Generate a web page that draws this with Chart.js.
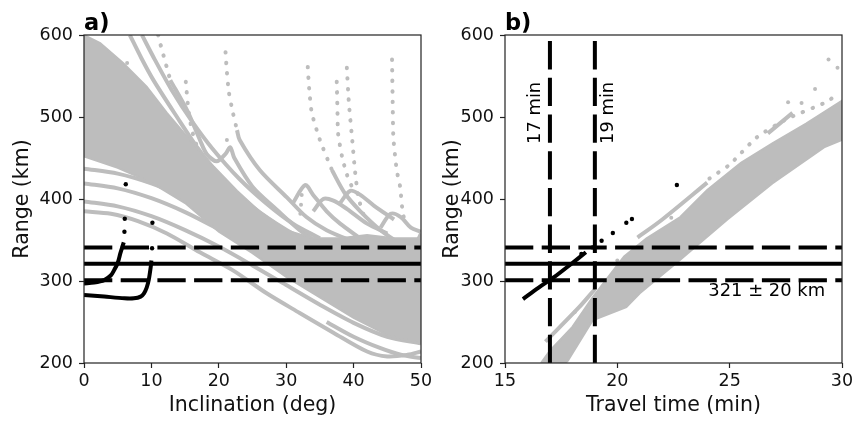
<!DOCTYPE html>
<html>
<head>
<meta charset="utf-8">
<script src="https://cdn.jsdelivr.net/npm/chart.js@4.4.1/dist/chart.umd.min.js"></script>
<style>
  body { margin: 0; background: #fff; }
  #wrap { position: relative; width: 858px; height: 421px; }
  canvas { position: absolute; top: 0; }
  #left { left: 0; }
  #right { left: 430px; }
</style>
</head>
<body>
<div id="wrap">
  <canvas id="left" width="440" height="421"></canvas>
  <canvas id="right" width="428" height="421"></canvas>
</div>
<script>
// axis limits / ticks
const rangeTicks = [200, 300, 400, 500, 600];
const incTicks = [0, 10, 20, 30, 40, 50];
const timeTicks = [15, 20, 25, 30];
const rangeMid = 321;
const rangeTol = 20;
const timeMarks = [17, 19];

// panel a) gray runs, range vs inclination
const massA = [[0,600],[2.4,590],[5.8,566],[9.3,537],[12.3,505],[15.7,472],[19.2,440],[22.7,410],[26,385],[30,362],[34,352],[38,352],[42,356],[46,352],[50,352],
  [50,224],[45,234],[40,255],[35,280],[30,305],[25,334],[20,360],[15,395],[10,420],[5,438],[0,452]];
const lowA1 = [[0,385],[4,382],[8,373],[12.3,358],[17.2,335],[22.1,313],[27.1,285],[32,261],[37,237],[42,214],[45,208],[48,210],[50,214]];
const lowA0 = [[36,250],[40,232],[44,218],[47,210],[50,206]];
const lowA2 = [[0,397],[5,391],[10,379],[15,362],[20,342],[25,319],[30,295],[35,271],[40,249],[45,232],[50,224]];
const lowA3 = [[0,419],[5,413],[10,401],[15,384],[20,363],[25,340],[30,316],[35,292],[40,269],[45,250],[50,236]];
const lowA4 = [[0,437],[5,431],[10,419],[15,402],[20,382],[25,359],[30,335],[35,311],[40,289],[45,268],[50,254]];
const riseA = [[46,300],[48,320],[49.3,345],[50,358]];
const arcA1 = [[6.8,600],[8.5,572],[10.3,545],[13.8,500],[16.8,463],[20.2,427],[25.1,390],[30.1,362],[34,345]];
const arcA2 = [[8.6,600],[10.5,570],[13,533],[16,495],[19,462],[23,425],[27,395],[31,370],[35,352]];
const arcA3dots = [[11,600],[11.3,590],[11.8,575],[12.3,560],[12.8,545]];
const arcA3 = [[12.8,545],[15.3,508],[17.2,472],[18.2,455],[19.7,446],[21,455],[21.7,463],[22.3,450],[25,415],[28.6,387],[32,362],[36,340]];
const dots15 = [[15.1,543],[15.5,508],[16,484],[16.8,463]];
const arcA4dots = [[21,579],[21.2,555],[21.5,530],[22.1,505],[22.7,484]];
const arcA4 = [[22.7,484],[23.1,472],[26.1,435],[30.1,402],[33,378],[36,362],[40,348],[45,332],[50,320]];
const arcA5dots = [[33.2,561],[33.4,535],[33.8,505],[35,472],[36.8,435]];
const arcA5 = [[36.8,435],[38.7,407],[41,385],[44,362],[47,345],[50,332]];
const dots37 = [[37.5,543],[37.6,510],[37.7,480],[38.3,451],[39,430],[40,410]];
const dots39 = [[39,560],[39.3,517],[39.8,472],[40.2,435],[40.7,402],[41.5,380]];
const dots46 = [[45.7,570],[45.8,518],[45.9,475],[46.4,435],[46.9,415],[47.2,390],[47.6,370]];
const loopA1 = [[31,395],[32.8,417],[34,405],[36,385],[38,370],[41,352]];
const loopA2 = [[34,385],[35.5,400],[37,398],[39,388],[42,370],[45,358]];
const loopA3 = [[38,395],[39.5,410],[41,405],[43,392],[46,375]];
const loopA4 = [[44,365],[45.5,382],[47,378],[48.5,365],[50,360]];
const strayA = [[6.4,566],[3.9,535],[32.3,405],[32.2,393],[32.1,382],[21.2,472]];

// panel a) black runs
const blackA1 = [[0,297],[1.5,298],[3,301],[4,307],[4.45,313],[5,322],[5.4,334],[5.9,347]];
const blackA1dots = [[6,360],[6.05,376],[6.2,418]];
const blackA2 = [[0,283],[3,281],[6,279],[7.4,279],[8.4,281],[8.9,285],[9.3,292],[9.6,301],[9.9,317],[10,325]];
const blackA2dots = [[10.1,340],[10.15,371]];

// panel b) gray runs, range vs travel time
const bandB = [[16.6,200],[17,215],[18,244],[18.9,280],[20.3,330],[21.3,352],[22.8,378],[24,411],[25.5,444],[26.9,468],[28.4,492],[30,520],
  [30,472],[29.2,463],[26.9,419],[24.9,375],[22.8,326],[21,285],[20.4,268],[18.9,252],[17.8,203],[17.7,200]];
const segB1 = [[16.8,226],[18.3,268],[19,290]];
const segB2 = [[20.9,353],[22,375],[24,420]];
const segB3dots = [[24.1,425],[25,442],[26.2,475],[27.5,497],[29.2,517],[29.9,529]];
const segB4 = [[26.7,480],[27.8,505]];
const strayB = [[29.4,570],[29.8,560],[28.8,534],[27.6,518],[28.2,517],[20,325],[22.4,377],[18.1,262]];

// panel b) black runs
const blackB = [[15.8,278],[16.5,292],[17.2,305],[18,322],[18.6,335]];
const blackBdots = [[18.4,333],[18.9,341],[19.3,349],[19.8,358.5],[20.4,371],[20.65,375.6],[22.65,417]];

const gray = '#bdbdbd';
const font = '"DejaVu Sans", sans-serif';
const pts = arr => arr.map(([x, y]) => ({x, y}));

const curve = arr => ({data: pts(arr), showLine: true, borderColor: gray, borderWidth: 4, pointRadius: 0, tension: 0.3, clip: 0, order: 3});
const dotted = arr => ({...curve(arr), borderDash: [0.5, 10], borderCapStyle: 'round', tension: 0.2});
const dots = (arr, color, r) => ({data: pts(arr), pointRadius: r, backgroundColor: color, borderWidth: 0, clip: 0, order: color === gray ? 3 : 1});
const shape = arr => ({data: pts(arr), showLine: true, fill: 'shape', backgroundColor: gray, borderColor: gray, borderWidth: 2, pointRadius: 0, tension: 0, clip: 0, order: 3});
const blackLine = arr => ({data: pts(arr), showLine: true, borderColor: '#000', borderWidth: 4, pointRadius: 0, tension: 0.3, clip: 0, order: 1});
const refLine = (arr, dashed) => ({data: pts(arr), showLine: true, borderColor: '#000', borderWidth: 4, pointRadius: 0, borderDash: dashed ? [28.3, 8.4] : [], clip: 0, order: 2});

const hLines = (x0, x1) => [
  refLine([[x0, rangeMid + rangeTol], [x1, rangeMid + rangeTol]], true),
  refLine([[x0, rangeMid], [x1, rangeMid]], false),
  refLine([[x0, rangeMid - rangeTol], [x1, rangeMid - rangeTol]], true)
];

const axesBox = {
  id: 'axesBox',
  afterDraw(chart, args, opts) {
    const {ctx, chartArea: a} = chart;
    ctx.save();
    ctx.strokeStyle = '#222';
    ctx.lineWidth = 1.2;
    ctx.strokeRect(a.left, a.top, a.right - a.left, a.bottom - a.top);
    ctx.fillStyle = '#000';
    ctx.font = 'bold 22.5px ' + font;
    ctx.textAlign = 'left';
    ctx.textBaseline = 'alphabetic';
    ctx.fillText(opts.label, a.left, a.top - 5);
    (opts.notes || []).forEach(n => {
      const x = chart.scales.x.getPixelForValue(n.x);
      const y = chart.scales.y.getPixelForValue(n.y);
      ctx.save();
      ctx.translate(x, y);
      ctx.rotate(n.rot || 0);
      ctx.font = '17.9px ' + font;
      ctx.textAlign = n.align;
      ctx.textBaseline = 'middle';
      ctx.fillText(n.text, 0, 0);
      ctx.restore();
    });
    ctx.restore();
  }
};

function scales(ticksX, title, yWidth) {
  const tickFont = {family: font, size: 17.5};
  return {
    x: {
      type: 'linear', min: ticksX[0], max: ticksX[ticksX.length - 1],
      afterBuildTicks: s => { s.ticks = ticksX.map(v => ({value: v})); },
      ticks: {font: tickFont, color: '#111', padding: 3, maxRotation: 0},
      grid: {drawOnChartArea: false, drawTicks: true, tickLength: 5, color: '#222', tickWidth: 1.2},
      border: {display: false},
      title: {display: true, text: title, font: {family: font, size: 20.5}, color: '#111', padding: {top: 4, bottom: 3}},
      afterFit: s => { s.height = 58; }
    },
    y: {
      type: 'linear', min: 200, max: 600,
      afterBuildTicks: s => { s.ticks = rangeTicks.map(v => ({value: v})); },
      ticks: {font: tickFont, color: '#111', padding: 6},
      grid: {drawOnChartArea: false, drawTicks: true, tickLength: 5, color: '#222', tickWidth: 1.2},
      border: {display: false},
      title: {display: true, text: 'Range (km)', font: {family: font, size: 20.5}, color: '#111', padding: {top: 10, bottom: 0}},
      afterFit: s => { s.width = yWidth; }
    }
  };
}

new Chart(document.getElementById('left'), {
  type: 'scatter',
  data: {
    datasets: [
      shape(massA),
      curve(lowA0), curve(lowA1), curve(lowA2), curve(lowA3), curve(lowA4), curve(riseA),
      curve(arcA1), curve(arcA2), dotted(arcA3dots), curve(arcA3), dotted(dots15),
      dotted(arcA4dots), curve(arcA4), dotted(arcA5dots), curve(arcA5),
      dotted(dots37), dotted(dots39), dotted(dots46),
      curve(loopA1), curve(loopA2), curve(loopA3), curve(loopA4),
      dots(strayA, gray, 2),
      ...hLines(incTicks[0], incTicks[incTicks.length - 1]),
      blackLine(blackA1), blackLine(blackA2),
      dots(blackA1dots, '#000', 2.2), dots(blackA2dots, '#000', 2.2)
    ]
  },
  options: {
    responsive: false, animation: false, devicePixelRatio: 1,
    layout: {padding: {top: 35, right: 19, left: 0, bottom: 0}},
    scales: scales(incTicks, 'Inclination (deg)', 84),
    plugins: {legend: {display: false}, tooltip: {enabled: false}, axesBox: {label: 'a)'}}
  },
  plugins: [axesBox]
});

new Chart(document.getElementById('right'), {
  type: 'scatter',
  data: {
    datasets: [
      shape(bandB),
      curve(segB1), curve(segB2), dotted(segB3dots), curve(segB4),
      dots(strayB, gray, 2),
      ...hLines(timeTicks[0], timeTicks[timeTicks.length - 1]),
      ...timeMarks.map(t => refLine([[t, 200], [t, 600]], true)),
      blackLine(blackB),
      dots(blackBdots, '#000', 2.2)
    ]
  },
  options: {
    responsive: false, animation: false, devicePixelRatio: 1,
    layout: {padding: {top: 35, right: 16, left: 0, bottom: 0}},
    scales: scales(timeTicks, 'Travel time (min)', 75),
    plugins: {
      legend: {display: false}, tooltip: {enabled: false},
      axesBox: {
        label: 'b)',
        notes: [
          {text: timeMarks[0] + ' min', x: 16.35, y: 505, rot: -Math.PI / 2, align: 'center'},
          {text: timeMarks[1] + ' min', x: 19.62, y: 505, rot: -Math.PI / 2, align: 'center'},
          {text: rangeMid + ' ± ' + rangeTol + ' km', x: 24.05, y: 287, align: 'left'}
        ]
      }
    }
  },
  plugins: [axesBox]
});
</script>
</body>
</html>
